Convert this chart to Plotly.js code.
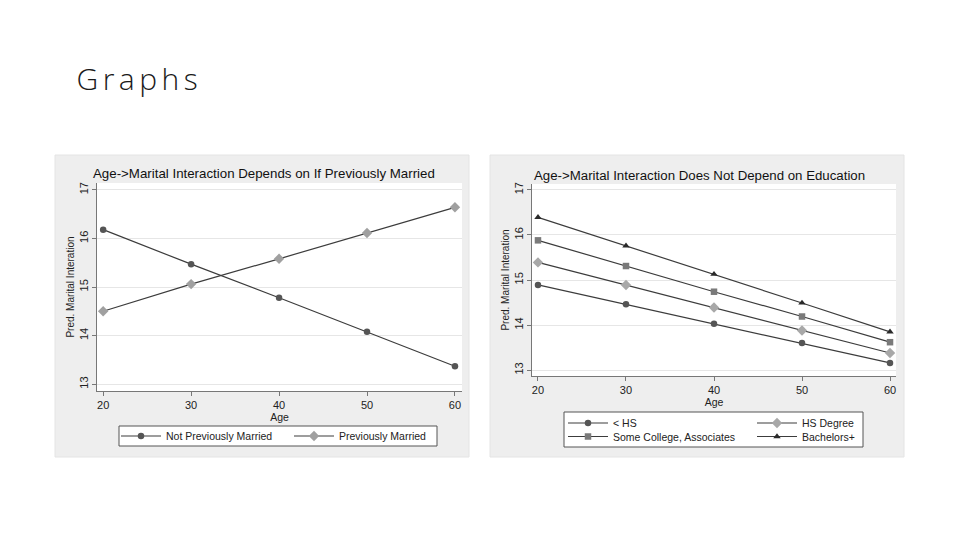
<!DOCTYPE html>
<html>
<head>
<meta charset="utf-8">
<script src="https://cdn.plot.ly/plotly-3.0.1.min.js"></script>
<style>
html,body{margin:0;padding:0;background:#fff;}
#chart{width:960px;height:540px;}
g.annotation[data-index="0"] text{letter-spacing:4.5px;}
</style>
</head>
<body>
<div id="chart"></div>
<script>
// ---- data ----
const ages = [20, 30, 40, 50, 60];
const notPrevMarried = [16.18, 15.47, 14.78, 14.08, 13.37];
const prevMarried = [14.50, 15.06, 15.58, 16.11, 16.64];
const ltHS = [14.89, 14.46, 14.03, 13.60, 13.16];
const hsDegree = [15.39, 14.89, 14.39, 13.88, 13.38];
const someCollege = [15.88, 15.31, 14.74, 14.19, 13.62];
const bachelors = [16.39, 15.76, 15.13, 14.49, 13.85];
const yTicks = [13, 14, 15, 16, 17];
const xTicks = [20, 30, 40, 50, 60];
const pageTitle = "Graphs";
const leftTitle = "Age->Marital Interaction Depends on If Previously Married";
const rightTitle = "Age->Marital Interaction Does Not Depend on Education";
const yTitle = "Pred. Marital Interation";
const xTitle = "Age";

const W = 960, H = 540;
const px = v => v / W;
const py = v => 1 - v / H;
const FONT = "Liberation Sans, Arial, sans-serif";
const lineCol = "#3c3c3c";

function tr(y, name, sym, col, xa, ya, leg) {
  return {
    x: ages, y: y, name: name, type: "scatter", mode: "lines+markers",
    xaxis: xa, yaxis: ya, legend: leg,
    line: {color: lineCol, width: 1.2},
    marker: {symbol: sym, size: sym === "diamond" ? 8 : 6.5, color: col}
  };
}

const data = [
  tr(notPrevMarried, "Not Previously Married", "circle", "#555555", "x", "y", "legend"),
  tr(prevMarried, "Previously Married", "diamond", "#a0a0a0", "x", "y", "legend"),
  tr(ltHS, "< HS", "circle", "#555555", "x2", "y2", "legend2"),
  tr(hsDegree, "HS Degree", "diamond", "#a8a8a8", "x2", "y2", "legend2"),
  tr(someCollege, "Some College, Associates", "square", "#7a7a7a", "x2", "y2", "legend3"),
  tr(bachelors, "Bachelors+", "triangle-up", "#2a2a2a", "x2", "y2", "legend3")
];

function xax(dom, range, anchor) {
  return {
    domain: dom, range: range, anchor: anchor,
    tickvals: xTicks, ticks: "outside", ticklen: 4, tickcolor: "#777",
    showgrid: false, zeroline: false, showline: true, linecolor: "#777", linewidth: 1,
    tickfont: {family: FONT, size: 11, color: "#222"},
    title: {text: xTitle, font: {family: FONT, size: 10.5, color: "#222"}, standoff: 0}
  };
}
function yax(dom, range, anchor) {
  return {
    domain: dom, range: range, anchor: anchor,
    tickvals: yTicks, ticks: "outside", ticklen: 4, tickcolor: "#777", tickangle: -90,
    showgrid: true, gridcolor: "#e6e6e6", gridwidth: 1,
    zeroline: false, showline: true, linecolor: "#777", linewidth: 1,
    tickfont: {family: FONT, size: 11, color: "#222"},
    title: {text: yTitle, font: {family: FONT, size: 10, color: "#222"}, standoff: 1}
  };
}
function leg(xLeft, yMid, ew) {
  return {
    x: px(xLeft), y: py(yMid), xanchor: "left", yanchor: "middle",
    orientation: "h", bgcolor: "rgba(0,0,0,0)", borderwidth: 0,
    font: {family: FONT, size: 10.5, color: "#222"},
    entrywidth: ew, entrywidthmode: "pixels", itemwidth: 40
  };
}

const layout = {
  width: W, height: H, margin: {l: 0, r: 0, t: 0, b: 0, autoexpand: false},
  paper_bgcolor: "#ffffff", plot_bgcolor: "#ffffff",
  showlegend: true,
  xaxis: xax([px(97), px(462)], [19.3, 60.8], "y"),
  yaxis: yax([py(391), py(183)], [12.86, 17.14], "x"),
  xaxis2: xax([px(532), px(896)], [19.32, 60.68], "y2"),
  yaxis2: yax([py(376), py(184)], [12.87, 17.13], "x2"),
  legend: leg(116, 436, 118),
  legend2: leg(563, 423, 134),
  legend3: leg(563, 436.5, 134),
  shapes: [
    {type: "rect", xref: "paper", yref: "paper", x0: px(55), x1: px(469), y0: py(457), y1: py(155),
     fillcolor: "#eeeeee", line: {color: "#e4e4e4", width: 1}, layer: "below"},
    {type: "rect", xref: "paper", yref: "paper", x0: px(490), x1: px(904), y0: py(457), y1: py(155),
     fillcolor: "#eeeeee", line: {color: "#e4e4e4", width: 1}, layer: "below"},
    {type: "rect", xref: "paper", yref: "paper", x0: px(97), x1: px(462), y0: py(391), y1: py(183),
     fillcolor: "#ffffff", line: {width: 0}, layer: "below"},
    {type: "rect", xref: "paper", yref: "paper", x0: px(532), x1: px(896), y0: py(376), y1: py(184),
     fillcolor: "#ffffff", line: {width: 0}, layer: "below"},
    {type: "rect", xref: "paper", yref: "paper", x0: px(119), x1: px(437), y0: py(446), y1: py(426),
     fillcolor: "#ffffff", line: {color: "#555", width: 1}, layer: "below"},
    {type: "rect", xref: "paper", yref: "paper", x0: px(564), x1: px(863), y0: py(447), y1: py(412),
     fillcolor: "#ffffff", line: {color: "#555", width: 1}, layer: "below"}
  ],
  annotations: [
    {text: pageTitle, xref: "paper", yref: "paper", x: px(88), y: py(79), xanchor: "left", yanchor: "middle",
     showarrow: false, font: {family: "Open Sans, sans-serif", size: 30, color: "#1a1a1a", weight: 300}},
    {text: leftTitle, xref: "paper", yref: "paper", x: px(264), y: py(174), xanchor: "center", yanchor: "middle",
     showarrow: false, font: {family: FONT, size: 13.3, color: "#111"}},
    {text: rightTitle, xref: "paper", yref: "paper", x: px(699), y: py(175), xanchor: "center", yanchor: "middle",
     showarrow: false, font: {family: FONT, size: 13.25, color: "#111"}}
  ]
};

Plotly.newPlot("chart", data, layout, {displayModeBar: false, staticPlot: true});
</script>
</body>
</html>
